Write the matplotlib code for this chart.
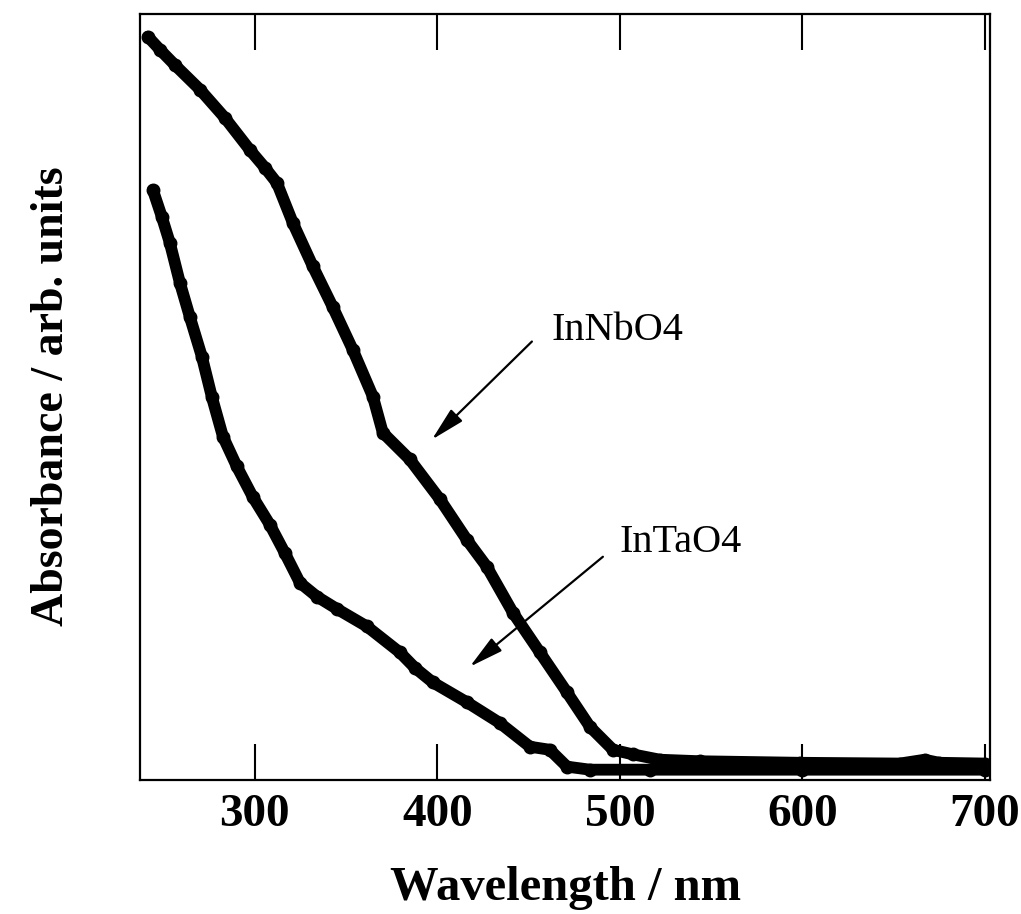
import matplotlib.pyplot as plt
import numpy as np

plt.rcParams['font.family'] = ['Liberation Serif', 'DejaVu Serif']

# wavelength (nm) and absorbance (arb.)
nb_wl = [241.4, 248.0, 256.2, 269.9, 283.6, 297.3, 305.5, 312.1, 320.8, 331.8,
         342.7, 353.7, 364.7, 370.1, 384.9, 401.4, 416.2, 427.1, 441.4, 456.2,
         471.0, 483.6, 496.2, 507.1, 522.0, 543.8, 598.6, 653.4, 667.0, 675.0, 700.0]
nb_abs = [0.970, 0.953, 0.933, 0.901, 0.864, 0.822, 0.799, 0.779, 0.727, 0.670,
          0.617, 0.561, 0.500, 0.453, 0.418, 0.366, 0.313, 0.278, 0.218, 0.166,
          0.114, 0.069, 0.039, 0.033, 0.026, 0.024, 0.022, 0.021, 0.026, 0.022, 0.021]

ta_wl = [244.1, 249.0, 253.4, 258.9, 264.4, 271.0, 276.4, 282.5, 290.1, 298.9,
         308.2, 316.4, 324.7, 334.0, 344.9, 361.4, 379.5, 387.7, 397.5, 416.2,
         434.2, 450.7, 461.6, 471.0, 483.6, 516.4, 600.0, 700.0]
ta_abs = [0.770, 0.735, 0.701, 0.649, 0.604, 0.552, 0.500, 0.448, 0.409, 0.369,
          0.333, 0.296, 0.257, 0.239, 0.223, 0.200, 0.166, 0.146, 0.127, 0.101,
          0.074, 0.043, 0.039, 0.017, 0.013, 0.013, 0.013, 0.013]

xticks = [300, 400, 500, 600, 700]

fig = plt.figure(figsize=(10.21, 9.14), dpi=100)
ax = fig.add_axes([0.137, 0.147, 0.833, 0.838])

for wl, ab in [(nb_wl, nb_abs), (ta_wl, ta_abs)]:
    ax.plot(wl, ab, color='black', lw=8.5, marker='o', ms=9,
            solid_capstyle='round', solid_joinstyle='round')

ax.set_xlim(237, 703)
ax.set_ylim(0, 1)
ax.set_xticks(xticks)
ax.set_xticklabels([str(t) for t in xticks], fontsize=34, fontweight='bold')
ax.set_yticks([])
ax.tick_params(axis='x', direction='in', length=26, width=1.5, top=True, pad=10)
for s in ax.spines.values():
    s.set_linewidth(1.6)

ax.set_xlabel('Wavelength / nm', fontsize=35, fontweight='bold', labelpad=22)
ax.set_ylabel('Absorbance / arb. units', fontsize=33, fontweight='bold', labelpad=48)

# labels and arrows
ax.text(498.4, 0.587, 'InNbO4', fontsize=29, ha='center', va='center')
ax.text(533.4, 0.309, 'InTaO4', fontsize=29, ha='center', va='center')
arrow = dict(arrowstyle='-|>,head_length=0.75,head_width=0.18', color='black',
             lw=1.6, mutation_scale=28, shrinkA=0, shrinkB=0)
ax.annotate('', xy=(397.0, 0.444), xytext=(451.8, 0.572), arrowprops=arrow)
ax.annotate('', xy=(417.8, 0.1475), xytext=(490.7, 0.291), arrowprops=arrow)

fig.savefig('out.png', dpi=100)
